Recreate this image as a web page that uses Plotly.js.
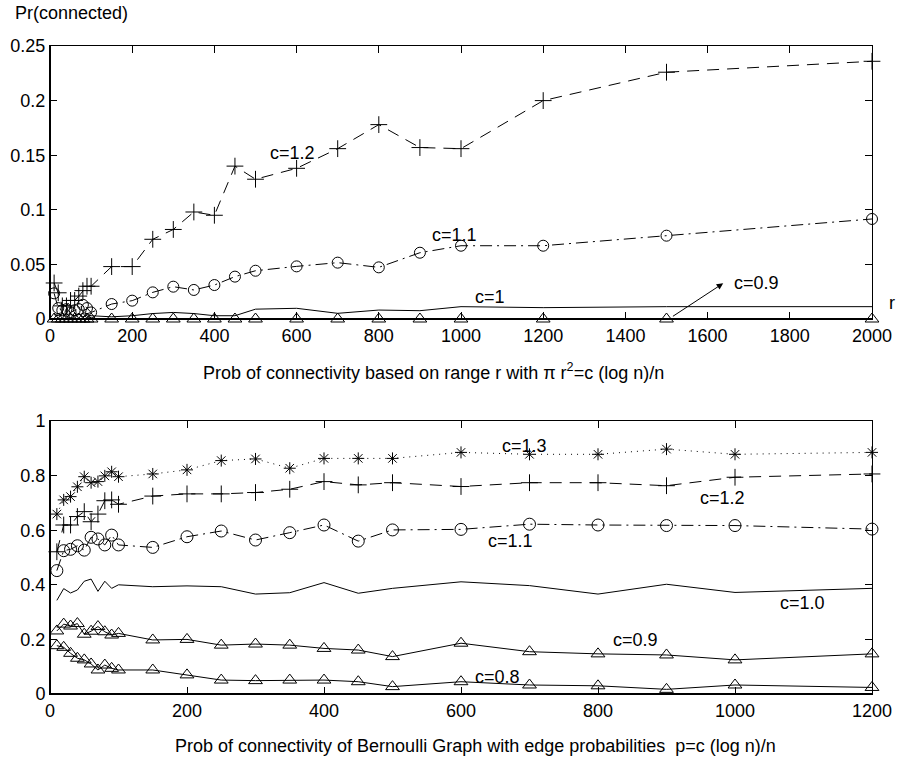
<!DOCTYPE html>
<html>
<head>
<meta charset="utf-8">
<script src="https://cdn.plot.ly/plotly-3.0.1.min.js"></script>
<style>html,body{margin:0;padding:0;background:#fff;}</style>
</head>
<body>
<div id="chart" style="width:902px;height:764px;"></div>
<script>
// ---- Top chart: range-based connectivity ----
const topX = [10,20,30,40,50,60,70,80,90,100,150,200,250,300,350,400,450,500,600,700,800,900,1000,1200,1500,2000];
const topC12 = [0.033,0.024,0.012,0.012,0.017,0.017,0.021,0.026,0.030,0.030,0.048,0.048,0.073,0.082,0.098,0.095,0.140,0.128,0.138,0.156,0.178,0.157,0.156,0.200,0.226,0.236];
const topC11 = [0.0235,0.010,0.008,0.009,0.006,0.008,0.009,0.013,0.010,0.006,0.0137,0.0168,0.0244,0.0296,0.0266,0.0311,0.0388,0.0442,0.0482,0.0516,0.0473,0.0607,0.0671,0.0671,0.0763,0.0916];
const topC10 = [0.004,0.003,0.005,0.002,0.004,0.003,0.005,0.002,0.004,0.003,0.002,0.003,0.005,0.006,0.005,0.003,0.003,0.009,0.0098,0.0052,0.0082,0.0076,0.0113,0.0104,0.0113,0.0113];
const topC09 = [0,0,0,0,0,0,0,0,0,0,0,0,0,0,0,0,0,0,0,0,0,0,0,0,0,0];

// ---- Bottom chart: Bernoulli graph ----
const botX = [10,20,30,40,50,60,70,80,90,100,150,200,250,300,350,400,450,500,600,700,800,900,1000,1200];
const botC13 = [0.659,0.711,0.723,0.759,0.796,0.774,0.778,0.799,0.814,0.796,0.806,0.821,0.855,0.861,0.827,0.863,0.863,0.863,0.885,0.878,0.878,0.897,0.878,0.885];
const botC12 = [0.521,0.619,0.619,0.650,0.668,0.631,0.659,0.708,0.711,0.695,0.725,0.733,0.733,0.738,0.750,0.778,0.766,0.774,0.760,0.774,0.774,0.763,0.794,0.806];
const botC11 = [0.452,0.525,0.530,0.543,0.527,0.574,0.568,0.546,0.582,0.546,0.537,0.576,0.597,0.564,0.591,0.619,0.560,0.601,0.603,0.622,0.619,0.617,0.617,0.604];
const botC10 = [0.343,0.386,0.370,0.381,0.413,0.421,0.376,0.413,0.387,0.400,0.393,0.396,0.393,0.366,0.371,0.408,0.369,0.387,0.411,0.397,0.366,0.402,0.372,0.387];
const botC09 = [0.231,0.256,0.249,0.258,0.219,0.230,0.247,0.228,0.216,0.222,0.198,0.200,0.179,0.183,0.179,0.167,0.161,0.137,0.186,0.155,0.147,0.143,0.125,0.147];
const botC08 = [0.177,0.171,0.149,0.131,0.125,0.110,0.088,0.106,0.094,0.088,0.088,0.070,0.051,0.049,0.051,0.051,0.045,0.027,0.045,0.033,0.030,0.017,0.033,0.024];

const FONT = 'Liberation Sans, Arial, Helvetica, sans-serif';
const FS = 18;
const K = 'black';

function tr(x, y, xa, ya, dash, symbol, msize) {
  const t = {
    x: x, y: y, xaxis: xa, yaxis: ya, type: 'scatter',
    mode: symbol ? 'lines+markers' : 'lines',
    line: {color: K, width: 1, dash: dash},
    cliponaxis: false, showlegend: false, hoverinfo: 'skip'
  };
  if (symbol) t.marker = {symbol: symbol, size: msize, color: K, line: {color: K, width: 1}};
  return t;
}

const data = [
  tr(topX, topC09, 'x', 'y', 'solid', 'triangle-up-open', 12),
  tr(topX, topC10, 'x', 'y', 'solid', null, 0),
  tr(topX, topC11, 'x', 'y', '12px,5px,2px,5px', 'circle-open', 11),
  tr(topX, topC12, 'x', 'y', '12px,8px', 'cross-thin-open', 12),
  tr(botX, botC08, 'x2', 'y2', 'solid', 'triangle-up-open', 12),
  tr(botX, botC09, 'x2', 'y2', 'solid', 'triangle-up-open', 12),
  tr(botX, botC10, 'x2', 'y2', 'solid', null, 0),
  tr(botX, botC11, 'x2', 'y2', '12px,5px,2px,5px', 'circle-open', 12),
  tr(botX, botC12, 'x2', 'y2', '12px,8px', 'cross-thin-open', 12),
  tr(botX, botC13, 'x2', 'y2', '1px,5px', 'asterisk-open', 10)
];

function ax(extra) {
  return Object.assign({
    showgrid: false, zeroline: false, showline: true, linecolor: K, linewidth: 1,
    mirror: 'ticks', ticks: 'inside', ticklen: 7, tickcolor: K, tickwidth: 1,
    tickfont: {family: FONT, size: FS, color: K}, fixedrange: true
  }, extra);
}

const lblFont = {family: FONT, size: FS, color: K};
function lab(text, x, y, xr, yr) {
  return {text: text, x: x, y: y, xref: xr, yref: yr, showarrow: false, font: lblFont, xanchor: 'center', yanchor: 'middle'};
}

const annotations = [
  lab('Pr(connected)', -0.0455, 1.051, 'paper', 'paper'),
  lab('r', 1.024, 0.603, 'paper', 'paper'),
  lab('Prob of connectivity based on range r with \u03c0 r<sup>2</sup>=c (log n)/n', 0.466, 0.497, 'paper', 'paper'),
  lab('Prob of connectivity of Bernoulli Graph with edge probabilities  p=c (log n)/n', 0.518, -0.080, 'paper', 'paper'),
  lab('c=1.2', 589, 0.152, 'x', 'y'),
  lab('c=1.1', 985, 0.077, 'x', 'y'),
  lab('c=1', 1071, 0.020, 'x', 'y'),
  lab('c=0.9', 1720, 0.033, 'x', 'y'),
  lab('c=1.3', 692, 0.908, 'x2', 'y2'),
  lab('c=1.2', 982, 0.718, 'x2', 'y2'),
  lab('c=1.1', 672, 0.560, 'x2', 'y2'),
  lab('c=1.0', 1098, 0.333, 'x2', 'y2'),
  lab('c=0.9', 855, 0.198, 'x2', 'y2'),
  lab('c=0.8', 653, 0.062, 'x2', 'y2'),
  {text: '', x: 1638, y: 0.0327, xref: 'x', yref: 'y', axref: 'x', ayref: 'y', ax: 1512, ay: 0.0016,
   showarrow: true, arrowhead: 2, arrowsize: 1.3, arrowwidth: 1, arrowcolor: K}
];
annotations[0].xanchor = 'left';

const shapes = [
  {type: 'line', xref: 'x domain', yref: 'y domain', x0: 0, x1: 0, y0: 0, y1: 1, line: {color: K, width: 2}},
  {type: 'line', xref: 'x domain', yref: 'y domain', x0: 0, x1: 1, y0: 0, y1: 0, line: {color: K, width: 2}},
  {type: 'line', xref: 'x2 domain', yref: 'y2 domain', x0: 0, x1: 0, y0: 0, y1: 1, line: {color: K, width: 2}},
  {type: 'line', xref: 'x2 domain', yref: 'y2 domain', x0: 0, x1: 1, y0: 0, y1: 0, line: {color: K, width: 2}}
];

const layout = {
  width: 902, height: 764,
  margin: {l: 50, r: 30, t: 46, b: 70},
  paper_bgcolor: 'white', plot_bgcolor: 'white',
  font: {family: FONT, size: FS, color: K},
  showlegend: false,
  xaxis: ax({domain: [0, 1], anchor: 'y', range: [0, 2000], tick0: 0, dtick: 200}),
  yaxis: ax({domain: [0.5787, 1], anchor: 'x', range: [0, 0.25], tick0: 0, dtick: 0.05}),
  xaxis2: ax({domain: [0, 1], anchor: 'y2', range: [0, 1200], tick0: 0, dtick: 200}),
  yaxis2: ax({domain: [0, 0.4213], anchor: 'x2', range: [0, 1], tick0: 0, dtick: 0.2}),
  annotations: annotations,
  shapes: shapes
};

Plotly.newPlot('chart', data, layout, {displayModeBar: false, staticPlot: true});
</script>
</body>
</html>
